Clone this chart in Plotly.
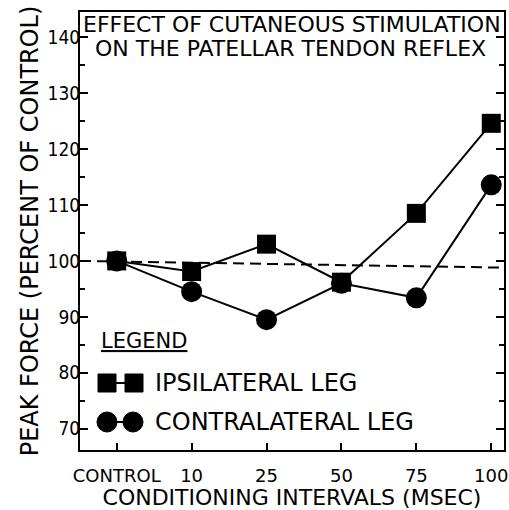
import plotly.graph_objects as go

categories = ["CONTROL", "10", "25", "50", "75", "100"]
ipsilateral = [100, 98.1, 103, 96.2, 108.5, 124.6]
contralateral = [100, 94.5, 89.5, 96.0, 93.4, 113.6]
y_ticks = [70, 80, 90, 100, 110, 120, 130, 140]
baseline = [100, 98.8]

FONT = "DejaVu Sans, sans-serif"
FONT_C = "DejaVu Sans Condensed, DejaVu Sans, sans-serif"

fig = go.Figure()
xs = list(range(len(categories)))
fig.add_trace(go.Scatter(x=xs, y=contralateral, mode="lines+markers",
                         line=dict(color="black", width=2),
                         marker=dict(symbol="circle", size=21, color="black"),
                         name="CONTRALATERAL LEG"))
fig.add_trace(go.Scatter(x=xs, y=ipsilateral, mode="lines+markers",
                         line=dict(color="black", width=2),
                         marker=dict(symbol="square", size=19, color="black"),
                         name="IPSILATERAL LEG"))

# baseline dashed line at control level
fig.add_shape(type="line", xref="paper", yref="y", x0=0, x1=1, y0=baseline[0], y1=baseline[1],
              line=dict(color="black", width=2, dash="11px,6px"))

# plot area in page pixels: x 80..504, y 12..450
W, H = 424.0, 438.0
def px(x):
    return (x - 80) / W
def py(y):
    return (450 - y) / H

# legend drawn by hand
fig.add_annotation(xref="paper", yref="paper", x=px(99), y=py(341), xanchor="left", yanchor="middle",
                   text="<u>LEGEND</u>", showarrow=False, font=dict(family=FONT, size=21, color="black"))
fig.add_annotation(xref="paper", yref="paper", x=px(153), y=py(383), xanchor="left", yanchor="middle",
                   text="IPSILATERAL LEG", showarrow=False, font=dict(family=FONT, size=24, color="black"))
fig.add_annotation(xref="paper", yref="paper", x=px(153), y=py(422), xanchor="left", yanchor="middle",
                   text="CONTRALATERAL LEG", showarrow=False, font=dict(family=FONT, size=24, color="black"))
fig.add_shape(type="line", xref="paper", yref="paper", x0=px(105), x1=px(138), y0=py(383), y1=py(383),
              line=dict(color="black", width=2))
fig.add_shape(type="rect", xref="paper", yref="paper", x0=px(98), x1=px(116), y0=py(374), y1=py(392),
              fillcolor="black", line=dict(color="black", width=1))
fig.add_shape(type="rect", xref="paper", yref="paper", x0=px(125), x1=px(143), y0=py(374), y1=py(392),
              fillcolor="black", line=dict(color="black", width=1))
fig.add_shape(type="line", xref="paper", yref="paper", x0=px(105), x1=px(135), y0=py(422), y1=py(422),
              line=dict(color="black", width=2))
fig.add_shape(type="circle", xref="paper", yref="paper", x0=px(97), x1=px(117), y0=py(412), y1=py(432),
              fillcolor="black", line=dict(color="black", width=1))
fig.add_shape(type="circle", xref="paper", yref="paper", x0=px(123), x1=px(143), y0=py(412), y1=py(432),
              fillcolor="black", line=dict(color="black", width=1))

# chart title inside the plot
fig.add_annotation(xref="paper", yref="paper", x=px(292), y=py(25), xanchor="center", yanchor="middle",
                   text="EFFECT OF CUTANEOUS STIMULATION", showarrow=False,
                   font=dict(family=FONT, size=22, color="black"))
fig.add_annotation(xref="paper", yref="paper", x=px(290), y=py(48), xanchor="center", yanchor="middle",
                   text="ON THE PATELLAR TENDON REFLEX", showarrow=False,
                   font=dict(family=FONT, size=22, color="black"))

fig.update_layout(
    width=509, height=510,
    margin=dict(l=80, r=5, t=12, b=60, autoexpand=False),
    paper_bgcolor="white", plot_bgcolor="white",
    showlegend=False,
    font=dict(family=FONT, size=19, color="black"),
)
fig.update_xaxes(
    tickmode="array", tickvals=xs, ticktext=categories,
    range=[-0.49, 5.17],
    showgrid=False, zeroline=False,
    showline=True, linecolor="black", linewidth=2, mirror=True,
    ticks="inside", ticklen=7, tickwidth=1.5, tickcolor="black",
    tickfont=dict(family=FONT, size=18),
    ticklabelstandoff=8,
    automargin=False,
    title=dict(text="CONDITIONING INTERVALS (MSEC)", font=dict(family=FONT, size=22), standoff=0),
)
fig.update_yaxes(
    tickmode="array", tickvals=y_ticks,
    range=[66.2, 144.5],
    showgrid=False, zeroline=False,
    showline=True, linecolor="black", linewidth=2, mirror="ticks",
    ticks="inside", ticklen=8, tickwidth=1.5, tickcolor="black",
    minor=dict(dtick=5, ticks="inside", ticklen=5, tickcolor="black", tickwidth=1.5),
    tickfont=dict(family=FONT_C, size=19),
    ticklabelstandoff=-6,
    automargin=False,
    title=dict(text="PEAK FORCE (PERCENT OF CONTROL)", font=dict(family=FONT, size=24), standoff=2),
)

fig.write_html("out.html", config={"displayModeBar": False},
               post_script="document.body.style.margin='0';")
